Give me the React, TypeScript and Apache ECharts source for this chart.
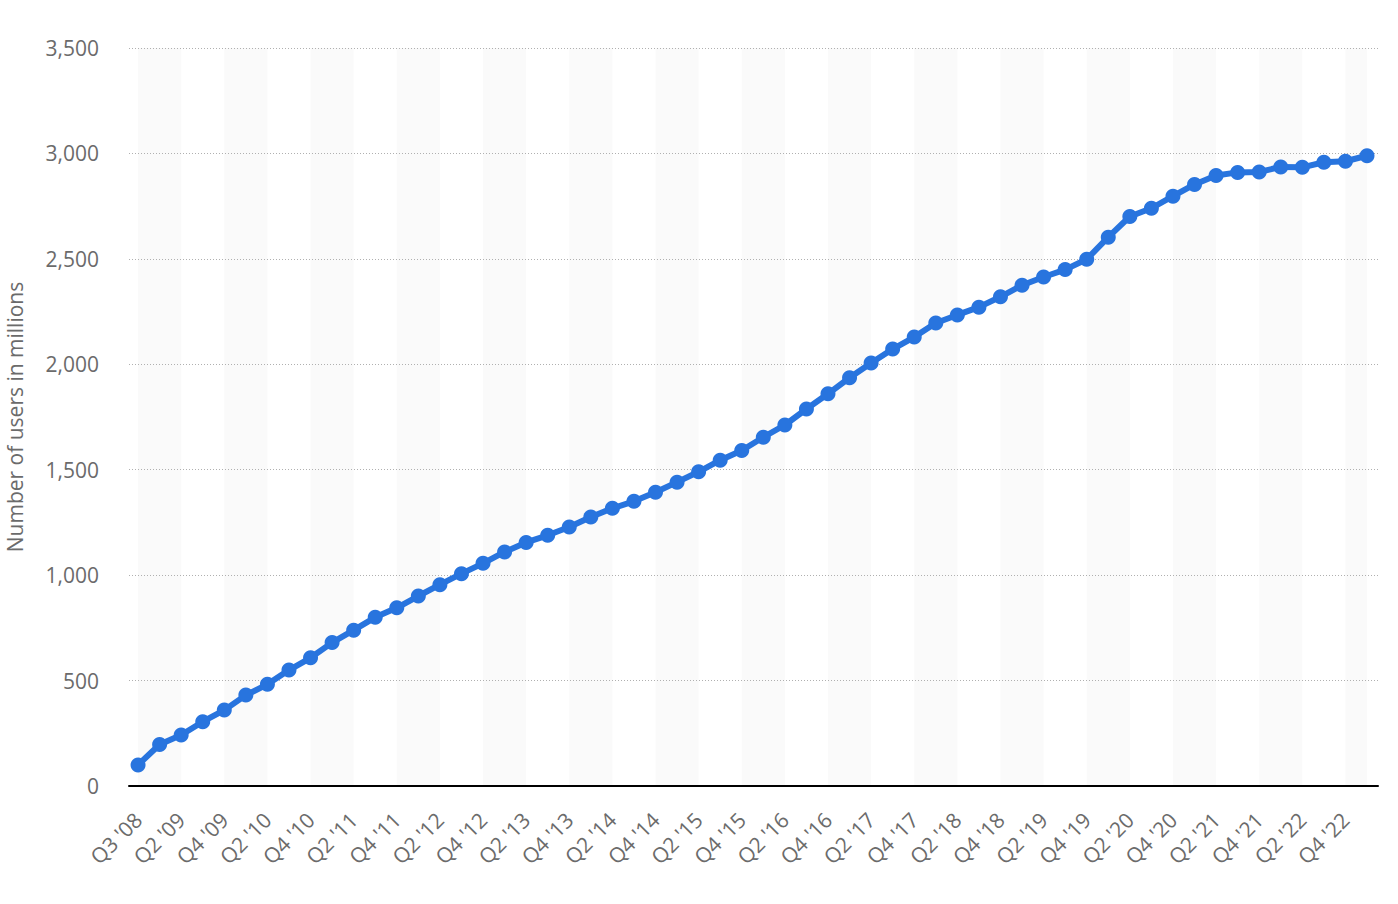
import React, { useEffect, useRef } from "react";
import * as echarts from "echarts";

const categories: string[] = [
  "Q3 '08",
  "Q1 '09", "Q2 '09", "Q3 '09", "Q4 '09",
  "Q1 '10", "Q2 '10", "Q3 '10", "Q4 '10",
  "Q1 '11", "Q2 '11", "Q3 '11", "Q4 '11",
  "Q1 '12", "Q2 '12", "Q3 '12", "Q4 '12",
  "Q1 '13", "Q2 '13", "Q3 '13", "Q4 '13",
  "Q1 '14", "Q2 '14", "Q3 '14", "Q4 '14",
  "Q1 '15", "Q2 '15", "Q3 '15", "Q4 '15",
  "Q1 '16", "Q2 '16", "Q3 '16", "Q4 '16",
  "Q1 '17", "Q2 '17", "Q3 '17", "Q4 '17",
  "Q1 '18", "Q2 '18", "Q3 '18", "Q4 '18",
  "Q1 '19", "Q2 '19", "Q3 '19", "Q4 '19",
  "Q1 '20", "Q2 '20", "Q3 '20", "Q4 '20",
  "Q1 '21", "Q2 '21", "Q3 '21", "Q4 '21",
  "Q1 '22", "Q2 '22", "Q3 '22", "Q4 '22",
  "Q1 '23",
];

const users: number[] = [
  100,
  197, 242, 305, 360,
  431, 482, 550, 608,
  680, 739, 800, 845,
  901, 955, 1007, 1056,
  1110, 1155, 1189, 1228,
  1276, 1317, 1350, 1393,
  1441, 1490, 1545, 1591,
  1654, 1712, 1788, 1860,
  1936, 2006, 2072, 2129,
  2196, 2234, 2271, 2320,
  2375, 2414, 2449, 2498,
  2603, 2701, 2740, 2797,
  2853, 2895, 2910, 2912,
  2936, 2934, 2958, 2963,
  2989,
];

const yTicks: number[] = [0, 500, 1000, 1500, 2000, 2500, 3000, 3500];

const FONT = "'Open Sans', 'Noto Sans', sans-serif";
const TEXT = "#6b6b6b";

export default function App() {
  const ref = useRef<HTMLDivElement>(null);

  useEffect(() => {
    document.body.style.margin = "0";
    if (!ref.current) return;
    const chart = echarts.init(ref.current, undefined, { renderer: "svg" });
    const n = categories.length;
    const labelIdx = categories.map((_, i) => i).filter((i) => i % 2 === 0);
    const bands: any[] = [];
    for (let i = 0; i < n - 1; i += 4) {
      bands.push([{ xAxis: i }, { xAxis: Math.min(i + 2, n - 1) }]);
    }
    const option: any = {
      animation: false,
      backgroundColor: "#ffffff",
      textStyle: { fontFamily: FONT },
      grid: {
        left: 129,
        right: 20,
        top: 48,
        bottom: 118,
        containLabel: false,
        outerBoundsMode: "none",
      },
      xAxis: {
        type: "value",
        min: -0.42,
        max: n - 1 + 0.51,
        z: 5,
        axisLine: { show: true, onZero: false, lineStyle: { color: "#000000", width: 2 } },
        axisTick: { show: false },
        splitLine: { show: false },
        axisLabel: {
          show: true,
          customValues: labelIdx,
          rotate: 45,
          margin: 30,
          color: TEXT,
          fontSize: 21,
          fontFamily: FONT,
          formatter: (v: number) => categories[Math.round(v)] ?? "",
        },
      },
      yAxis: {
        type: "value",
        min: yTicks[0],
        max: yTicks[yTicks.length - 1],
        interval: 500,
        z: 5,
        name: "Number of users in millions",
        nameLocation: "middle",
        nameGap: 104,
        nameTextStyle: { color: TEXT, fontSize: 21, fontFamily: FONT },
        axisLine: { show: false },
        axisTick: { show: false },
        axisLabel: {
          color: TEXT,
          fontSize: 21,
          fontFamily: FONT,
          margin: 30,
          formatter: (v: number) => v.toLocaleString("en-US"),
        },
        splitLine: {
          show: true,
          lineStyle: { color: "#b0b0b0", width: 1, type: [1, 2] },
        },
      },
      series: [
        {
          name: "bands",
          type: "line",
          z: -1,
          silent: true,
          data: users.map((v, i) => [i, v]),
          showSymbol: false,
          lineStyle: { opacity: 0 },
          itemStyle: { opacity: 0 },
          markArea: {
            silent: true,
            z: -1,
            itemStyle: { color: "#fafafa" },
            data: bands,
          },
        },
        {
          name: "Users",
          type: "line",
          z: 6,
          data: users.map((v, i) => [i, v]),
          symbol: "circle",
          symbolSize: 15,
          showSymbol: true,
          lineStyle: { color: "#2874DE", width: 6 },
          itemStyle: { color: "#2874DE" },
        },
      ],
    };
    chart.setOption(option);
    return () => chart.dispose();
  }, []);

  return <div ref={ref} style={{ width: 1398, height: 904 }} />;
}
